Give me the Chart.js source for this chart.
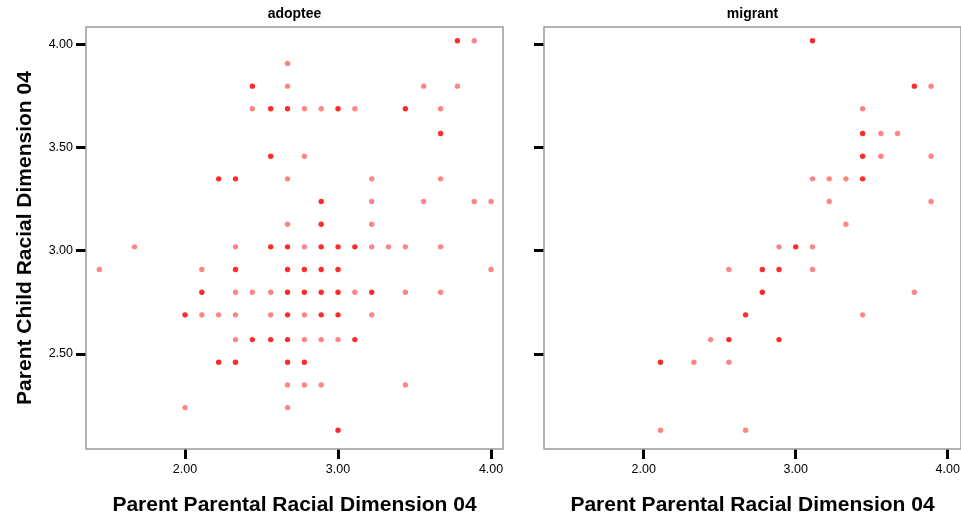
<!DOCTYPE html>
<html lang="en">
<head>
    <meta charset="UTF-8">
    <title>Parent Child vs Parent Parental Racial Dimension 04</title>
    <script src="https://cdn.jsdelivr.net/npm/chart.js@4.4.1/dist/chart.umd.min.js"></script>
    <style>
        html, body {
            margin: 0;
            padding: 0;
            background: #fff;
            overflow: hidden;
            width: 961px;
            height: 518px;
        }
        .panel {
            position: absolute;
            top: 0;
            height: 518px;
        }
        #leftWrap { left: 0; width: 515px; }
        #rightWrap { left: 515px; width: 450px; }
    </style>
</head>
<body>
    <div class="panel" id="leftWrap"><canvas id="adopteeChart"></canvas></div>
    <div class="panel" id="rightWrap"><canvas id="migrantChart"></canvas></div>

    <script>
        // panel titles and axis titles
        const panelTitles = ["adoptee", "migrant"];
        const xTitle = "Parent Parental Racial Dimension 04";
        const yTitle = "Parent Child Racial Dimension 04";

        const xTicks = [2.00, 3.00, 4.00];
        const yTicks = [2.50, 3.00, 3.50, 4.00];

        // adoptee: x, y, and number of cases stacked on that spot
        const adopteeX = [3.78, 3.89,
            2.67,
            2.44, 2.67, 3.56, 3.78,
            2.44, 2.56, 2.67, 2.78, 2.89, 3.00, 3.11, 3.44, 3.67,
            3.67,
            2.56, 2.78,
            2.22, 2.33, 2.67, 3.22, 3.67,
            2.89, 3.22, 3.56, 3.89, 4.00,
            2.67, 2.89, 3.22,
            1.67, 2.33, 2.56, 2.67, 2.78, 2.89, 3.00, 3.11, 3.22, 3.33, 3.44, 3.67,
            1.44, 2.11, 2.33, 2.67, 2.78, 2.89, 3.00, 4.00,
            2.11, 2.33, 2.44, 2.56, 2.67, 2.78, 2.89, 3.00, 3.11, 3.22, 3.44, 3.67,
            2.00, 2.11, 2.22, 2.33, 2.56, 2.67, 2.78, 2.89, 3.00, 3.22,
            2.33, 2.44, 2.56, 2.67, 2.78, 2.89, 3.00, 3.11,
            2.22, 2.33, 2.67, 2.78,
            2.67, 2.78, 2.89, 3.44,
            2.00, 2.67,
            3.00];
        const adopteeY = [4.02, 4.02,
            3.91,
            3.80, 3.80, 3.80, 3.80,
            3.69, 3.69, 3.69, 3.69, 3.69, 3.69, 3.69, 3.69, 3.69,
            3.57,
            3.46, 3.46,
            3.35, 3.35, 3.35, 3.35, 3.35,
            3.24, 3.24, 3.24, 3.24, 3.24,
            3.13, 3.13, 3.13,
            3.02, 3.02, 3.02, 3.02, 3.02, 3.02, 3.02, 3.02, 3.02, 3.02, 3.02, 3.02,
            2.91, 2.91, 2.91, 2.91, 2.91, 2.91, 2.91, 2.91,
            2.80, 2.80, 2.80, 2.80, 2.80, 2.80, 2.80, 2.80, 2.80, 2.80, 2.80, 2.80,
            2.69, 2.69, 2.69, 2.69, 2.69, 2.69, 2.69, 2.69, 2.69, 2.69,
            2.57, 2.57, 2.57, 2.57, 2.57, 2.57, 2.57, 2.57,
            2.46, 2.46, 2.46, 2.46,
            2.35, 2.35, 2.35, 2.35,
            2.24, 2.24,
            2.13];
        const adopteeN = [2, 1,
            1,
            2, 1, 1, 1,
            1, 2, 2, 1, 1, 2, 1, 2, 1,
            2,
            2, 1,
            2, 2, 1, 1, 1,
            2, 1, 1, 1, 1,
            1, 2, 1,
            1, 1, 2, 2, 1, 2, 2, 2, 1, 1, 1, 1,
            1, 1, 2, 2, 2, 2, 2, 1,
            2, 1, 1, 1, 2, 2, 2, 2, 1, 2, 1, 1,
            2, 1, 1, 1, 1, 2, 1, 2, 2, 1,
            1, 2, 2, 2, 1, 1, 1, 2,
            2, 2, 2, 2,
            1, 1, 1, 1,
            1, 1,
            2];

        // migrant
        const migrantX = [3.11,
            3.78, 3.89,
            3.44,
            3.44, 3.56, 3.67,
            3.44, 3.56, 3.89,
            3.11, 3.22, 3.33, 3.44,
            3.22, 3.89,
            3.33,
            2.89, 3.00, 3.11,
            2.56, 2.78, 2.89, 3.11,
            2.78, 3.78,
            2.67, 3.44,
            2.44, 2.56, 2.89,
            2.11, 2.33, 2.56,
            2.11, 2.67];
        const migrantY = [4.02,
            3.80, 3.80,
            3.69,
            3.57, 3.57, 3.57,
            3.46, 3.46, 3.46,
            3.35, 3.35, 3.35, 3.35,
            3.24, 3.24,
            3.13,
            3.02, 3.02, 3.02,
            2.91, 2.91, 2.91, 2.91,
            2.80, 2.80,
            2.69, 2.69,
            2.57, 2.57, 2.57,
            2.46, 2.46, 2.46,
            2.13, 2.13];
        const migrantN = [2,
            2, 1,
            1,
            2, 1, 1,
            2, 1, 1,
            1, 1, 1, 2,
            1, 1,
            1,
            1, 2, 1,
            1, 2, 2, 1,
            2, 1,
            2, 1,
            1, 2, 2,
            2, 1, 1,
            1, 1];

        const darkRed = "#ff2a2a";
        const lightRed = "#ff8585";
        const frameGray = "#9a9a9a";
        const fontName = "'Liberation Sans', Arial, sans-serif";

        // panel title above the plot area, plus the grey frame round it
        const framePlugin = {
            id: "frame",
            beforeDatasetsDraw(chart) {
                const a = chart.chartArea;
                const ctx = chart.ctx;
                ctx.save();
                ctx.strokeStyle = frameGray;
                ctx.lineWidth = 1.5;
                ctx.strokeRect(a.left, a.top, a.right - a.left, a.bottom - a.top);
                ctx.restore();
            },
            afterDraw(chart, args, opts) {
                const a = chart.chartArea;
                const ctx = chart.ctx;
                ctx.save();
                ctx.fillStyle = "#000";
                ctx.font = "bold 14px " + fontName;
                ctx.textAlign = "center";
                ctx.textBaseline = "middle";
                ctx.fillText(opts.text, (a.left + a.right) / 2, 14);
                ctx.restore();
            }
        };

        function makePoints(xs, ys) {
            return xs.map((x, i) => ({ x: x, y: ys[i] }));
        }

        function makeChart(id, title, xs, ys, ns, showY) {
            const tickFont = { family: fontName, size: 12.5 };
            const titleFont = { family: fontName, size: 21, weight: "bold" };

            return new Chart(document.getElementById(id), {
                type: "scatter",
                data: {
                    datasets: [{
                        data: makePoints(xs, ys),
                        pointStyle: "circle",
                        pointRadius: 2.7,
                        pointBorderWidth: 0,
                        pointBackgroundColor: ns.map(n => n > 1 ? darkRed : lightRed)
                    }]
                },
                options: {
                    responsive: true,
                    maintainAspectRatio: false,
                    animation: false,
                    events: [],
                    layout: {
                        padding: { top: 27, right: showY ? 12 : 3, bottom: 0, left: 0 }
                    },
                    plugins: {
                        legend: { display: false },
                        tooltip: { enabled: false },
                        frame: { text: title }
                    },
                    scales: {
                        x: {
                            type: "linear",
                            min: showY ? 1.353 : 1.344,
                            max: showY ? 4.078 : 4.087,
                            afterBuildTicks: s => { s.ticks = xTicks.map(v => ({ value: v })); },
                            afterFit: s => { s.height = 69; },
                            border: { display: false },
                            grid: {
                                drawOnChartArea: false,
                                drawTicks: true,
                                tickLength: 10,
                                tickWidth: 3,
                                tickColor: "#000"
                            },
                            ticks: {
                                font: tickFont,
                                color: "#000",
                                padding: 3,
                                maxRotation: 0,
                                callback: v => v.toFixed(2)
                            },
                            title: {
                                display: true,
                                text: xTitle,
                                font: titleFont,
                                color: "#000",
                                padding: { top: 0, bottom: 0 }
                            }
                        },
                        y: {
                            type: "linear",
                            min: 2.039,
                            max: 4.087,
                            afterBuildTicks: s => { s.ticks = yTicks.map(v => ({ value: v })); },
                            afterFit: s => { s.width = showY ? 86 : 29; },
                            border: { display: false },
                            grid: {
                                drawOnChartArea: false,
                                drawTicks: true,
                                tickLength: 10,
                                tickWidth: 3,
                                tickColor: "#000"
                            },
                            ticks: {
                                display: showY,
                                font: tickFont,
                                color: "#000",
                                padding: 3,
                                callback: v => v.toFixed(2)
                            },
                            title: {
                                display: showY,
                                text: yTitle,
                                font: titleFont,
                                color: "#000",
                                padding: { top: 13, bottom: 0 }
                            }
                        }
                    }
                },
                plugins: [framePlugin]
            });
        }

        makeChart("adopteeChart", panelTitles[0], adopteeX, adopteeY, adopteeN, true);
        makeChart("migrantChart", panelTitles[1], migrantX, migrantY, migrantN, false);
    </script>
</body>
</html>
